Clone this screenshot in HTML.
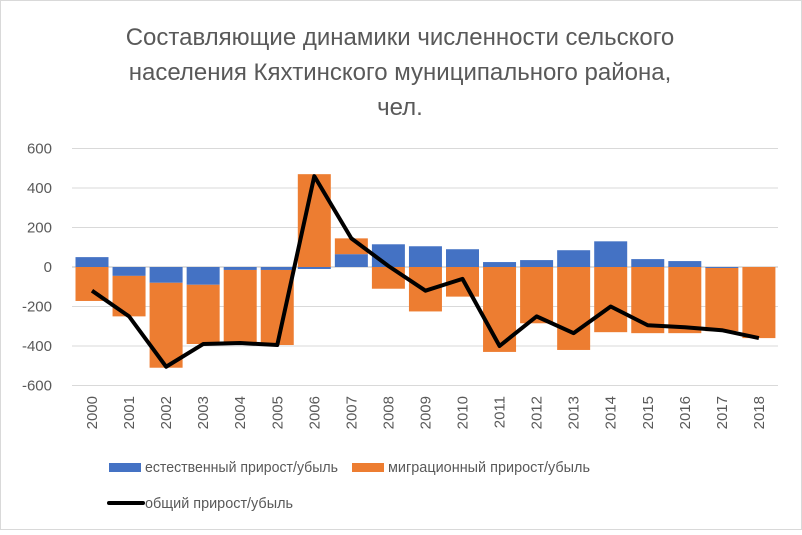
<!DOCTYPE html>
<html><head><meta charset="utf-8"><style>
body{margin:0;background:#fff;}
svg text{font-family:"Liberation Sans",sans-serif;}
</style></head><body>
<svg id="chart" width="802" height="530" xmlns="http://www.w3.org/2000/svg">
<rect x="0.5" y="0.5" width="801" height="529" fill="#fff" stroke="#d9d9d9"/>
<g fill="#595959" font-size="24" text-anchor="middle">
<text x="400" y="45">Составляющие динамики численности сельского</text>
<text x="400" y="80">населения Кяхтинского муниципального района,</text>
<text x="400" y="115">чел.</text>
</g>
<g id="grid"></g><g id="bars"></g><g id="line"></g><g id="axes"></g>
<g font-size="15" fill="#595959">
<rect x="109" y="463" width="32" height="9" fill="#4472c4"/>
<text x="145" y="472" textLength="193" lengthAdjust="spacingAndGlyphs">естественный прирост/убыль</text>
<rect x="352" y="463" width="32" height="9" fill="#ed7d31"/>
<text x="388" y="472" textLength="202" lengthAdjust="spacingAndGlyphs">миграционный прирост/убыль</text>
<line x1="109" y1="503" x2="143" y2="503" stroke="#000" stroke-width="4" stroke-linecap="round"/>
<text x="145" y="508" textLength="148" lengthAdjust="spacingAndGlyphs">общий прирост/убыль</text>
</g>
</svg>
<script>
const years=["2000","2001","2002","2003","2004","2005","2006","2007","2008","2009","2010","2011","2012","2013","2014","2015","2016","2017","2018"];
const natural=[50,-45,-80,-90,-15,-15,-10,65,115,105,90,25,35,85,130,40,30,-5,0];
const migration=[-172,-205,-430,-300,-370,-380,470,80,-110,-225,-150,-430,-285,-420,-330,-335,-335,-320,-360];
const total=[-120,-250,-505,-390,-385,-395,460,145,5,-120,-60,-400,-250,-335,-200,-295,-305,-320,-360];
const yTicks=[600,400,200,0,-200,-400,-600];
const NS="http://www.w3.org/2000/svg";
const x0=92,step=37.05,bw=33;
function X(i){return x0+i*step;}
function Y(v){return 267-v*0.1975;}
function mk(t,a,p){const e=document.createElementNS(NS,t);for(const k in a)e.setAttribute(k,a[k]);p.appendChild(e);return e;}
const grid=document.getElementById('grid'),axes=document.getElementById('axes'),bars=document.getElementById('bars'),line=document.getElementById('line');
yTicks.forEach(v=>{
 const l=mk('line',{x1:72,x2:778,y1:Y(v),y2:Y(v),stroke:v===0?'#bfbfbf':'#d9d9d9','stroke-width':1},grid);
 
 
 const t=mk('text',{x:52,y:Y(v)+5,'text-anchor':'end','font-size':15,fill:'#595959'},axes);
 t.textContent=v;
 
 
});
function seg(a,b,fill,name){
 const r=mk('rect',{x:0,y:Math.min(Y(a),Y(b)),width:bw,height:Math.abs(Y(a)-Y(b)),fill:fill},bars);
 
 
 return r;
}
let pts=[];
years.forEach((yr,i)=>{
 const n=natural[i],m=migration[i];
 let pos=0,neg=0;
 const r1=n>=0?seg(pos,pos+=n,'#4472c4','bar-natural-'+yr):seg(neg,neg+=n,'#4472c4','bar-natural-'+yr);
 r1.setAttribute('x',X(i)-bw/2);
 const r2=m>=0?seg(pos,pos+=m,'#ed7d31','bar-migration-'+yr):seg(neg,neg+=m,'#ed7d31','bar-migration-'+yr);
 r2.setAttribute('x',X(i)-bw/2);
 pts.push(X(i)+','+Y(total[i]));
 const t=mk('text',{x:0,y:0,'text-anchor':'end','font-size':15,fill:'#595959',transform:'translate('+(X(i)+5)+',396) rotate(-90)'},axes);
 t.textContent=yr;
 
 
});
const pl=mk('polyline',{points:pts.join(' '),fill:'none',stroke:'#000','stroke-width':4,'stroke-linejoin':'round'},line);


</script>
</body></html>
